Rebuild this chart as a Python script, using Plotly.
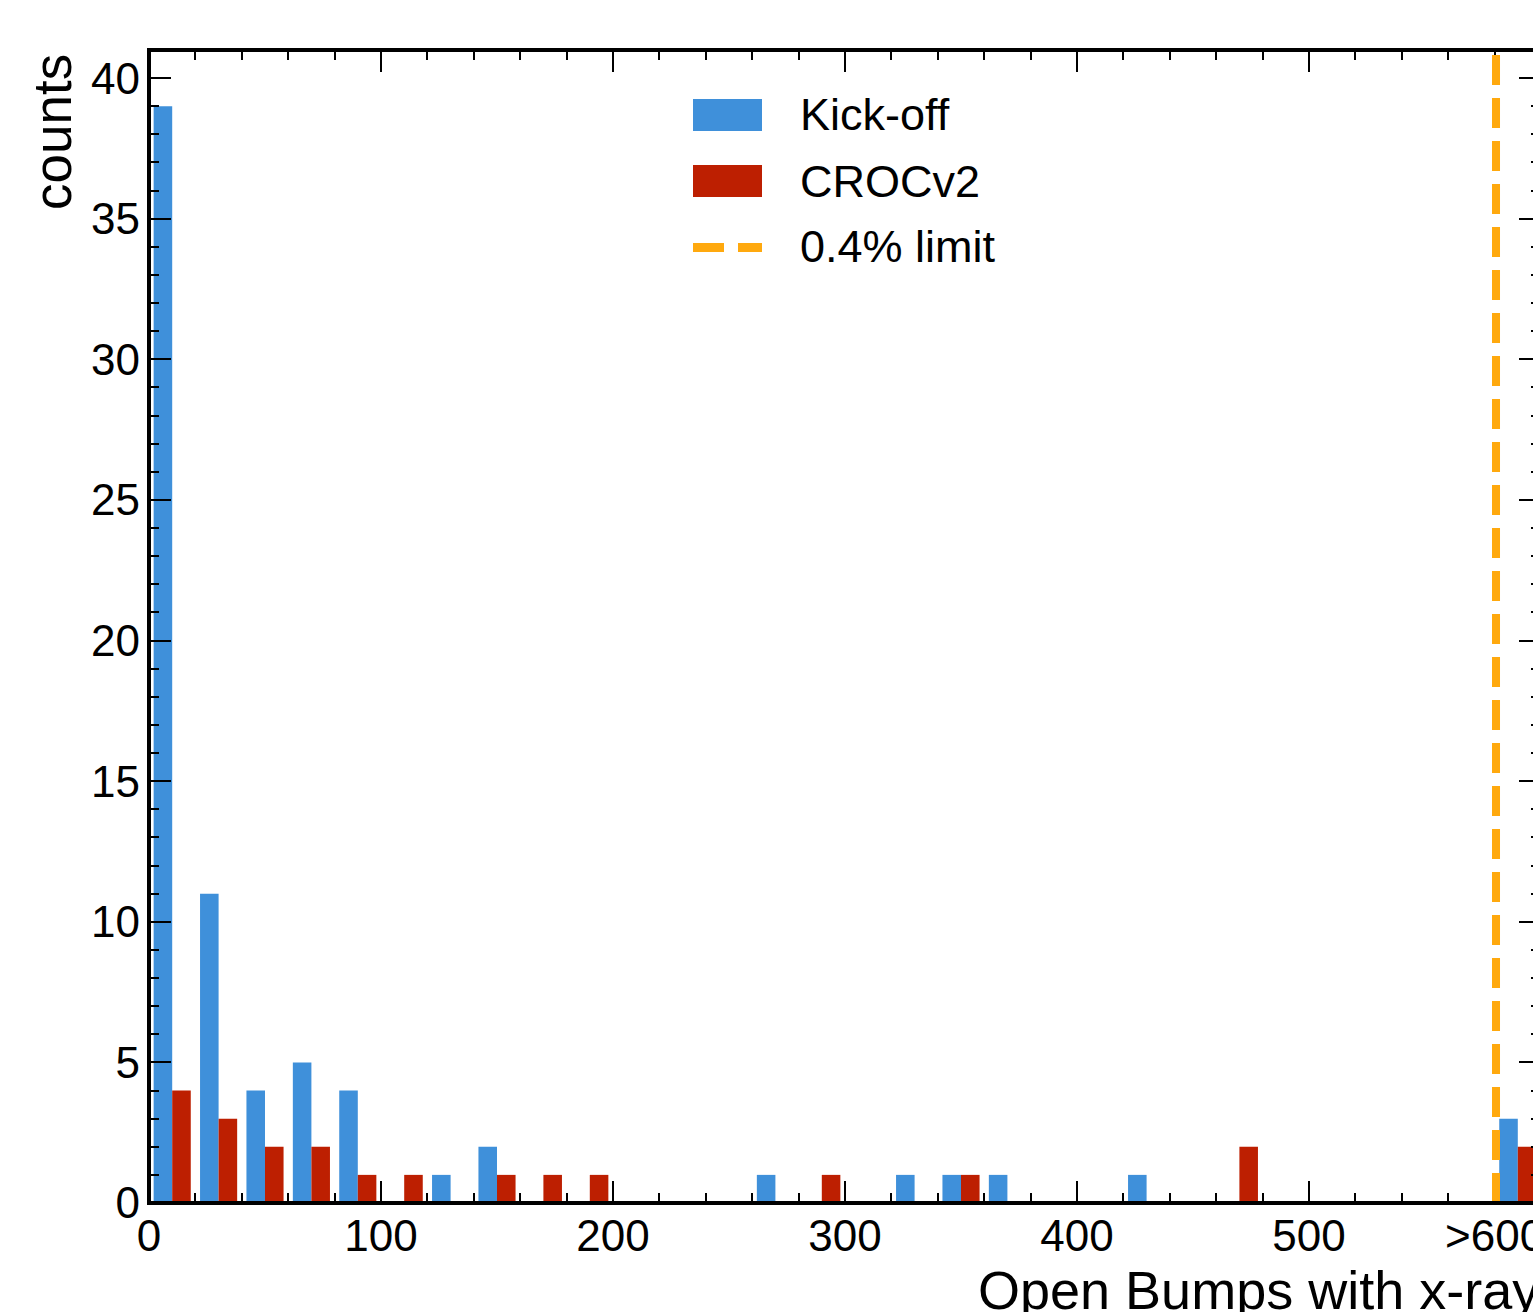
import plotly.graph_objects as go

# ---- data ----
bin_centers = [10, 30, 50, 70, 90, 110, 130, 150, 170, 190,
               210, 230, 250, 270, 290, 310, 330, 350, 370, 390,
               410, 430, 450, 470, 490, 510, 530, 550, 570, 590]
kickoff = [39, 11, 4, 5, 4, 0, 1, 2, 0, 0,
           0, 0, 0, 1, 0, 0, 1, 1, 1, 0,
           0, 1, 0, 0, 0, 0, 0, 0, 0, 3]
crocv2 = [4, 3, 2, 2, 1, 1, 0, 1, 1, 1,
          0, 0, 0, 0, 1, 0, 0, 1, 0, 0,
          0, 0, 0, 2, 0, 0, 0, 0, 0, 2]
limit_value = 580.608  # 0.4% of 432x336 pixels
x_tick_vals = [0, 100, 200, 300, 400, 500, 580]
x_tick_text = ["0", "100", "200", "300", "400", "500", ">600"]
x_minor_vals = [20, 40, 60, 80, 120, 140, 160, 180, 220, 240, 260, 280,
                320, 340, 360, 380, 420, 440, 460, 480, 520, 540, 560]
series_names = ["Kick-off", "CROCv2", "0.4% limit"]
colors = ["#3f90da", "#bd1f01", "#ffa90e"]

# ---- geometry ----
W, H = 1580, 1312
L, R, T, B = 149, 39, 50, 109
PW, PH = W - L - R, H - T - B


def px_x(p):
    return (p - L) / PW


def px_y(p):
    return (H - B - p) / PH


FONT = "Liberation Sans, Arial, Helvetica, sans-serif"

fig = go.Figure()
fig.add_trace(go.Bar(x=bin_centers, y=kickoff, name=series_names[0],
                     marker=dict(color=colors[0], line=dict(width=0))))
fig.add_trace(go.Bar(x=bin_centers, y=crocv2, name=series_names[1],
                     marker=dict(color=colors[1], line=dict(width=0))))

# limit line
fig.add_shape(type="line", xref="x", yref="paper", x0=limit_value, x1=limit_value,
              y0=0, y1=1, line=dict(color=colors[2], width=8, dash="30px,13px"))

# frame (centered on the plot edges)
fig.add_shape(type="rect", xref="paper", yref="paper", x0=0, x1=1, y0=0, y1=1,
              line=dict(color="black", width=4), fillcolor="rgba(0,0,0,0)",
              layer="above")

# custom legend
leg_x0, leg_x1 = px_x(693), px_x(762)
fig.add_shape(type="rect", xref="paper", yref="paper", x0=leg_x0, x1=leg_x1,
              y0=px_y(131), y1=px_y(99), fillcolor=colors[0], line=dict(width=0))
fig.add_shape(type="rect", xref="paper", yref="paper", x0=leg_x0, x1=leg_x1,
              y0=px_y(197), y1=px_y(165), fillcolor=colors[1], line=dict(width=0))
fig.add_shape(type="line", xref="paper", yref="paper", x0=leg_x0, x1=leg_x1,
              y0=px_y(247.5), y1=px_y(247.5),
              line=dict(color=colors[2], width=9, dash="31px,14px"))
for name, yc in zip(series_names, [115, 181, 247]):
    fig.add_annotation(xref="paper", yref="paper", x=px_x(798), y=px_y(yc),
                       xanchor="left", yanchor="middle", text=name, showarrow=False,
                       font=dict(family=FONT, size=45, color="black"))

# axis titles
fig.add_annotation(xref="paper", yref="paper", x=px_x(52), y=px_y(52),
                   xanchor="center", yanchor="top", text="counts", textangle=-90,
                   showarrow=False, font=dict(family=FONT, size=53, color="black"))
fig.add_annotation(xref="paper", yref="paper", x=1.0, y=px_y(1258),
                   xanchor="right", yanchor="top", text="Open Bumps with x-ray",
                   showarrow=False, font=dict(family=FONT, size=54, color="black"))

axis_common = dict(showline=False, mirror="allticks",
                   ticks="inside", ticklen=22, tickwidth=2, tickcolor="black",
                   showgrid=False, zeroline=False,
                   tickfont=dict(family=FONT, size=44, color="black"))

fig.update_xaxes(range=[0, 600], tickmode="array", tickvals=x_tick_vals,
                 ticktext=x_tick_text, ticklabelstandoff=3,
                 minor=dict(tickmode="array", tickvals=x_minor_vals, ticks="inside",
                            ticklen=10, tickwidth=1.5, tickcolor="black", showgrid=False),
                 **axis_common)
fig.update_yaxes(range=[0, 41], tickmode="linear", tick0=0, dtick=5,
                 ticklabelstandoff=8,
                 minor=dict(dtick=1, ticks="inside", ticklen=10, tickwidth=1.5,
                            tickcolor="black", showgrid=False),
                 **axis_common)

fig.update_layout(width=W, height=H, margin=dict(l=L, r=R, t=T, b=B, pad=0),
                  barmode="group", bargap=0.2, bargroupgap=0,
                  plot_bgcolor="white", paper_bgcolor="white", showlegend=False,
                  font=dict(family=FONT, color="black"))

fig.write_html("out.html", config={"displayModeBar": False},
               post_script="document.body.style.margin='0';"
                           "document.body.style.overflow='hidden';"
                           "document.documentElement.style.overflow='hidden';")
